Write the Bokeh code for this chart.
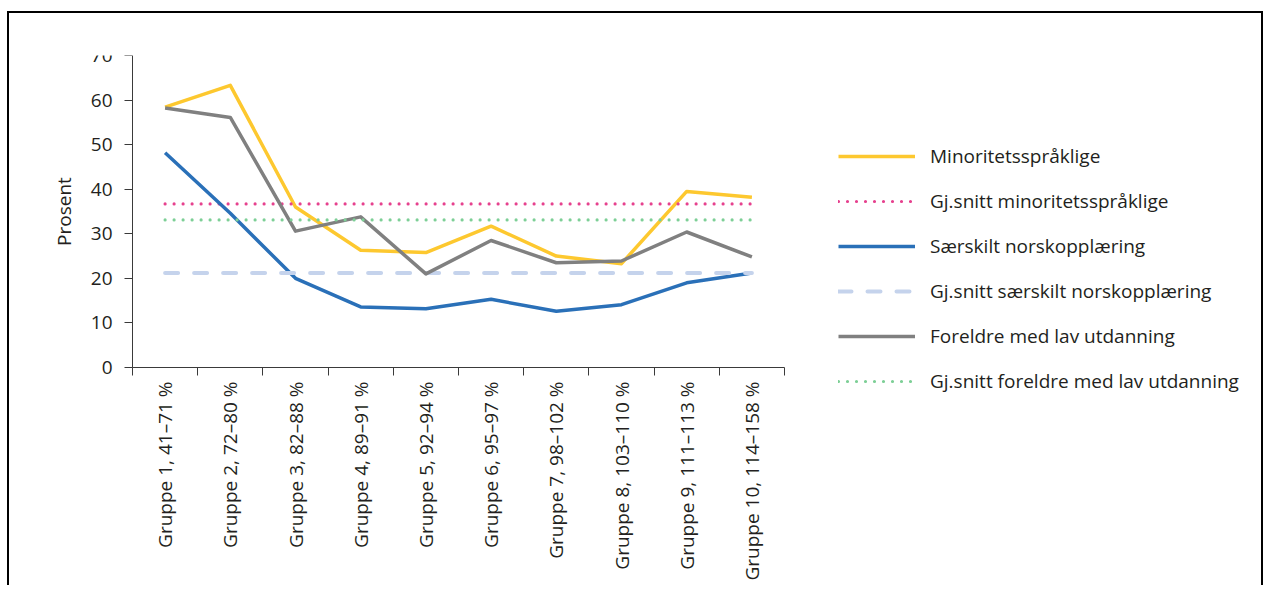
import math
from bokeh.plotting import figure
from bokeh.models import Legend, LegendItem, FixedTicker, Range1d
from bokeh.core.properties import value
from bokeh.embed import file_html
from bokeh.resources import INLINE

groups = ["Gruppe 1, 41–71 %", "Gruppe 2, 72–80 %", "Gruppe 3, 82–88 %",
          "Gruppe 4, 89–91 %", "Gruppe 5, 92–94 %", "Gruppe 6, 95–97 %",
          "Gruppe 7, 98–102 %", "Gruppe 8, 103–110 %", "Gruppe 9, 111–113 %",
          "Gruppe 10, 114–158 %"]
minoritet = [58.4, 63.3, 36.0, 26.3, 25.8, 31.7, 25.0, 23.3, 39.5, 38.2]
saerskilt = [48.2, 34.6, 20.0, 13.6, 13.2, 15.3, 12.6, 14.1, 19.0, 21.2]
foreldre = [58.2, 56.1, 30.6, 33.8, 21.0, 28.5, 23.5, 23.9, 30.4, 24.8]
avg_minoritet = 36.7
avg_saerskilt = 21.2
avg_foreldre = 33.1
y_ticks = [0, 10, 20, 30, 40, 50, 60, 70]
y_title = "Prosent"
labels = ["Minoritetsspråklige", "Gj.snitt minoritetsspråklige",
          "Særskilt norskopplæring", "Gj.snitt særskilt norskopplæring",
          "Foreldre med lav utdanning", "Gj.snitt foreldre med lav utdanning"]

FONT = "Open Sans"
TXT = "#231f20"
FS = "19px"
AX = "#3a3a3a"

YELLOW = "#fdc82f"
PINK = "#e6418e"
BLUE = "#2a70b8"
LBLUE = "#c5d3ec"
GRAY = "#808080"
GREEN = "#7dcf96"

# layout (pixels)
AXIS_W, AXIS_H = 652, 312       # size of the axes box
LEFT_PAD, RIGHT_PAD = 93, 477   # frame space left of y axis / right of x axis end
FRAME_H = 530                   # frame height (extends below x axis for labels)
Y_MAX = 70
n = len(groups)
px_x = AXIS_W / n
px_y = AXIS_H / Y_MAX
frame_w = LEFT_PAD + AXIS_W + RIGHT_PAD

xs = [i + 0.5 for i in range(n)]
bounds = list(range(n + 1))

p = figure(frame_width=frame_w, frame_height=FRAME_H, output_backend="svg",
           toolbar_location=None,
           x_range=Range1d(-LEFT_PAD / px_x, n + RIGHT_PAD / px_x),
           y_range=Range1d(-(FRAME_H - AXIS_H) / px_y, Y_MAX),
           min_border_left=30, min_border_right=0, min_border_top=42,
           min_border_bottom=0,
           styles={"margin-left": "7px", "margin-top": "11px",
                   "border-left": "2px solid #000",
                   "border-top": "2px solid #000",
                   "border-right": "2px solid #000"})
p.outline_line_color = None
p.grid.grid_line_color = None
p.background_fill_color = "white"

# x axis: line + boundary ticks at y = 0; labels drawn as text below
p.xaxis.fixed_location = 0
p.xaxis.bounds = (0, n)
p.xaxis.ticker = FixedTicker(ticks=[], minor_ticks=bounds)
p.xaxis.major_tick_out = 0
p.xaxis.major_tick_in = 0
p.xaxis.minor_tick_out = 8
p.xaxis.minor_tick_in = 0
p.xaxis.minor_tick_line_color = AX
p.xaxis.major_label_standoff = 0
p.xaxis.axis_line_color = AX

# y axis: line + ticks at x = 0; labels drawn as text
p.yaxis.fixed_location = 0
p.yaxis.bounds = (0, Y_MAX)
p.yaxis.ticker = FixedTicker(ticks=y_ticks)
p.yaxis.major_label_overrides = {t: "" for t in y_ticks}
p.yaxis.major_label_text_font_size = "1px"
p.yaxis.major_label_standoff = 0
p.yaxis.major_tick_out = 8
p.yaxis.major_tick_in = 0
p.yaxis.minor_tick_line_color = None
p.yaxis.major_tick_line_color = AX
p.yaxis.axis_line_color = AX

txt_style = dict(text_font=value(FONT), text_font_size=value(FS), text_color=TXT)

# category labels, vertical, below the x axis
p.text(x=xs, y=[0] * n, text=groups, angle=math.pi / 2, text_align="right",
       text_baseline="middle", y_offset=14, **txt_style)
# y tick labels
p.text(x=[0] * len(y_ticks), y=y_ticks, text=[str(t) for t in y_ticks],
       text_align="right", text_baseline="middle", x_offset=-20, **txt_style)
# y axis title
p.text(x=[0], y=[Y_MAX / 2], text=[y_title], angle=math.pi / 2,
       text_align="center", text_baseline="middle", x_offset=-69, **txt_style)

styles = [
    dict(line_color=YELLOW, line_width=3.5, line_join="round"),
    dict(line_color=PINK, line_width=3.2, line_dash="0 9", line_cap="round"),
    dict(line_color=BLUE, line_width=3.5, line_join="round"),
    dict(line_color=LBLUE, line_width=4, line_dash="13 16", line_cap="round"),
    dict(line_color=GRAY, line_width=3.5, line_join="round"),
    dict(line_color=GREEN, line_width=3.2, line_dash="0 9", line_cap="round"),
]
series = [
    (xs, minoritet),
    ([xs[0], xs[-1]], [avg_minoritet, avg_minoritet]),
    (xs, saerskilt),
    ([xs[0], xs[-1]], [avg_saerskilt, avg_saerskilt]),
    (xs, foreldre),
    ([xs[0], xs[-1]], [avg_foreldre, avg_foreldre]),
]
items = []
for (sx, sy), st, lab in zip(series, styles, labels):
    r = p.line(sx, sy, **st)
    items.append(LegendItem(label=lab, renderers=[r]))

# legend: glyphs start 54 px right of the axes box, bottom row ends 27 px below x axis
legend = Legend(items=items,
                location=(LEFT_PAD + AXIS_W + 54, FRAME_H - AXIS_H - 27))
legend.margin = 0
legend.padding = 0
legend.spacing = 19
legend.glyph_width = 77
legend.glyph_height = 26
legend.label_height = 26
legend.label_standoff = 15
legend.border_line_color = None
legend.background_fill_alpha = 0
legend.label_text_font = FONT
legend.label_text_font_size = FS
legend.label_text_color = TXT
p.add_layout(legend)

open("out.html", "w").write(file_html(p, INLINE))
